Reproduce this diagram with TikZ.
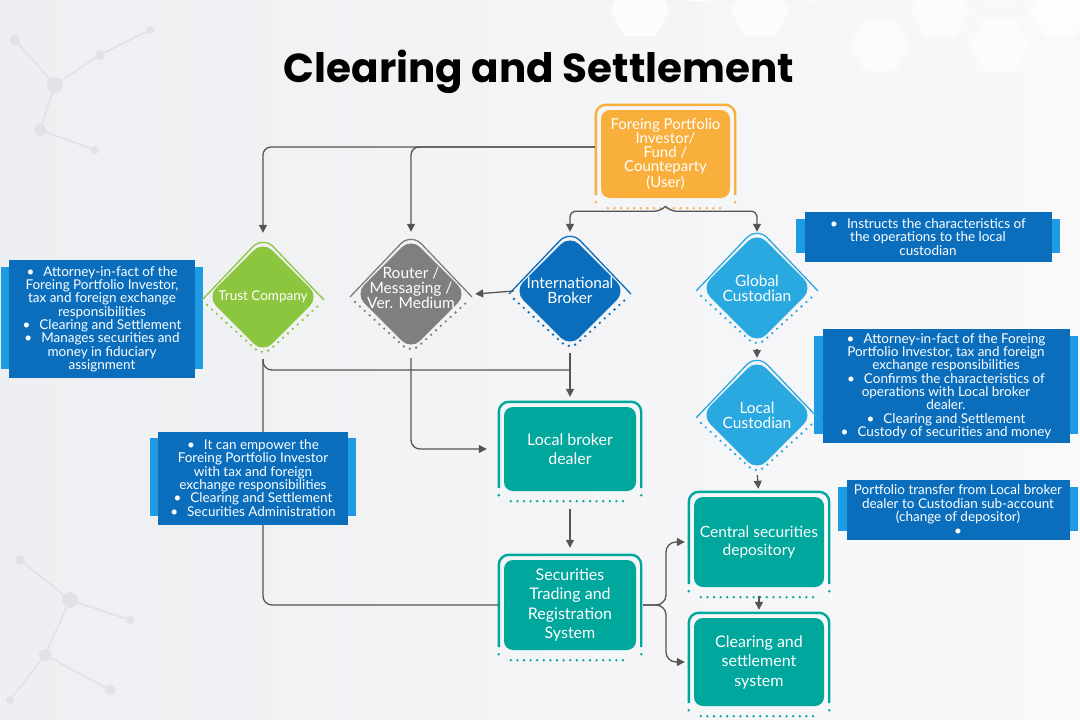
\documentclass[tikz,border=0pt]{standalone}
\usepackage{fontspec}
\setmainfont{Lato}
\newfontfamily\titlefont{Poppins}
\usetikzlibrary{shapes.geometric,arrows.meta,calc,backgrounds}
\definecolor{cOrange}{HTML}{F9AF3B}
\definecolor{cGreen}{HTML}{8CC63F}
\definecolor{cGray}{HTML}{7F7F7F}
\definecolor{cBlue}{HTML}{0A6EBD}
\definecolor{cLBlue}{HTML}{2AA9E0}
\definecolor{cTeal}{HTML}{00A79D}
\definecolor{cBack}{HTML}{1E9BE2}
\definecolor{cLine}{HTML}{555555}
\definecolor{cBgL}{HTML}{EEEFF2}
\definecolor{cBgR}{HTML}{F9F9FA}
\definecolor{cDeco}{HTML}{E0E2E6}
\tikzset{
  conn/.style={draw=cLine, line width=1.3pt},
  arr/.style={-{Triangle[length=8pt,width=8pt]}},
  dotl/.style={line width=2.6pt, line cap=round, dash pattern=on 0pt off 6.6pt},
  diam/.style={shape=diamond, aspect=1, minimum width=112pt, minimum height=112pt, inner sep=0pt, rounded corners=13pt, draw=none},
  dtxt/.style={text=white, align=center, inner sep=0pt, font=\fontsize{15.5}{15}\selectfont},
  fbox/.style={rounded corners=9pt, inner sep=0pt, text=white, align=center, font=\fontsize{16}{19.5}\selectfont},
  info/.style={fill=cBlue, inner sep=0pt, text=white, align=center, font=\fontsize{13.5}{13.35}\selectfont}
}
\newcommand\rdiam[6][]{%
  \node[diam, fill=#5] (#2) at (#3,#4) {};
  \node[dtxt, #1] (#2t) at (#2) {#6};
  \draw[#5, line width=1.3pt, rounded corners=15pt] ($(#2)+(-61,3)$) -- ($(#2)+(0,-61)$) -- ($(#2)+(61,3)$);
  \draw[#5, dotl, rounded corners=10pt] ($(#2)+(-56,8)$) -- ($(#2)+(0,59)$) -- ($(#2)+(56,8)$);
}
\newcommand\fbx[8][]{%
  \node[fbox, fill=#7, minimum width=#5, minimum height=#6, #1] (#2) at (#3,#4) {#8};
  \draw[#7, line width=2.4pt, rounded corners=10pt] ($(#2.south west)+(-5,-3)$) -- ($(#2.north west)+(-5,-5)$) -- ($(#2.north east)+(5,-5)$) -- ($(#2.south east)+(5,-3)$);
  \draw[#7, dotl] ($(#2.south west)+(7,10)$) -- ($(#2.south east)+(-7,10)$);
  \fill[#7] ($(#2.south west)+(-5,4)$) circle (1.4pt) ($(#2.south east)+(5,4)$) circle (1.4pt);
}
\newcommand\infob[6]{%
  \node[info, minimum width=#4, minimum height=#5] (#1) at (#2,#3) {#6};
  \begin{scope}[on background layer]
    \fill[cBack] ($(#1.north west)+(-8,7)$) rectangle ($(#1.south east)+(8,-9)$);
  \end{scope}
}
\begin{document}
\begin{tikzpicture}[x=1pt,y=-1pt]
\useasboundingbox (0,0) rectangle (1080,720);
\begin{scope}[on background layer]
  \shade[left color=cBgL, right color=cBgR] (0,0) rectangle (1080,720);
  \foreach \hx/\hy in {640/10, 700/-25, 760/10, 880/45, 940/10, 1000/45, 1060/10, 1000/-25, 820/-25}{
    \fill[white, opacity=0.7] ($(\hx,\hy)+(0:30)$) -- ($(\hx,\hy)+(60:30)$) -- ($(\hx,\hy)+(120:30)$) -- ($(\hx,\hy)+(180:30)$) -- ($(\hx,\hy)+(240:30)$) -- ($(\hx,\hy)+(300:30)$) -- cycle;
  }
  \draw[cDeco, line width=1.5pt] (15,40) -- (55,85) -- (100,55) (55,85) -- (40,130) -- (95,150) (100,55) -- (150,30);
  \foreach \mx/\my/\mr in {15/40/5, 55/85/8, 100/55/5, 40/130/6, 95/150/4, 150/30/4}{\fill[cDeco] (\mx,\my) circle (\mr pt);}
  \draw[cDeco, line width=1.5pt] (20,560) -- (70,600) -- (45,655) -- (110,690) (70,600) -- (130,620) (45,655) -- (10,700);
  \foreach \mx/\my/\mr in {20/560/5, 70/600/8, 45/655/6, 110/690/5, 130/620/4, 10/700/4}{\fill[cDeco] (\mx,\my) circle (\mr pt);}
\end{scope}

\node[font=\titlefont\bfseries\fontsize{40.5}{48}\selectfont, anchor=base, inner sep=0pt] (title) at (539,82) {Clearing and Settlement};

% top box
\fbx[font=\fontsize{15}{14}\selectfont]{fpi}{665.5}{154}{129pt}{88pt}{cOrange}{Foreing Portfolio\\Investor/\\Fund /\\Counteparty\\(User)}

% diamonds
\rdiam[font=\fontsize{13.5}{14}\selectfont]{trust}{263}{297}{cGreen}{Trust Company}
\rdiam[yshift=6pt]{router}{411}{294}{cGray}{Router /\\Messaging /\\Ver. Medium}
\rdiam[yshift=1pt]{ib}{570}{291}{cBlue}{International\\Broker}
\rdiam{gc}{757}{288}{cLBlue}{Global\\Custodian}
\rdiam{lc}{757}{415}{cLBlue}{Local\\Custodian}

% teal boxes
\fbx{lbd}{570}{449}{132pt}{84pt}{cTeal}{Local broker\\dealer}
\fbx{str}{570}{605}{132pt}{90pt}{cTeal}{Securities\\Trading and\\Registration\\System}
\fbx[font=\fontsize{15.5}{18}\selectfont]{csd}{759}{542}{130pt}{90pt}{cTeal}{Central securities\\depository}
\fbx{css}{759}{662}{130pt}{88pt}{cTeal}{Clearing and\\settlement\\system}

% connectors
\coordinate (fpiL) at ($(fpi.west)+(-6,-7)$);
\draw[conn, arr, rounded corners=8pt] (fpiL) -| ($(trust.north)+(0,-8)$);
\draw[conn, arr, rounded corners=8pt] (fpiL) -| ($(router.north)+(0,-6)$);
\coordinate (fpiB) at ($(fpi.south)+(0,8)$);
\draw[conn, arr, rounded corners=6pt] (fpiB) -- ++(-5,5) -| ($(ib.north)+(0,-3)$);
\draw[conn, arr, rounded corners=6pt] (fpiB) -- ++(5,5) -| ($(gc.north)+(0,0)$);
\draw[conn, arr] (ib.west) -- ($(router.east)+(8,0)$);
\coordinate (j1) at (570,370);
\draw[conn, rounded corners=9pt, shorten <=6pt] (trust.south) |- (j1);
\draw[conn, rounded corners=9pt, shorten <=6pt, shorten >=5pt] (trust.south) |- (str.west);
\draw[conn, arr, shorten <=6pt, shorten >=10pt] (ib.south) -- (lbd.north);
\draw[conn, arr, rounded corners=9pt, shorten <=8pt, shorten >=17pt] (router.south) |- (lbd.west);
\draw[conn, arr, shorten <=18pt, shorten >=12pt] (lbd.south) -- (str.north);
\coordinate (b1) at (666,605);
\draw[conn, arr, rounded corners=10pt, shorten >=9pt] ($(str.east)+(7,0)$) -- (b1) |- (csd.west);
\draw[conn, arr, rounded corners=10pt, shorten >=9pt] ($(str.east)+(7,0)$) -- (b1) |- (css.west);
\draw[conn, arr, shorten <=5pt, shorten >=1pt] (gc.south) -- (lc.north);
\draw[conn, arr, shorten <=4pt, shorten >=8pt] (lc.south) -- (csd.north);
\draw[conn, arr, shorten <=9pt, shorten >=8pt] (csd.south) -- (css.north);

% info boxes (on top of connectors)
\infob{i1}{102}{319}{186pt}{118pt}{•\hspace{9pt}Attorney-in-fact of the\\Foreing Portfolio Investor,\\tax and foreign exchange\\responsibilities\\•\hspace{9pt}Clearing and Settlement\\•\hspace{9pt}Manages securities and\\money in fiduciary\\assignment}
\infob{i2}{253}{478}{190pt}{93pt}{•\hspace{9pt}It can empower the\\Foreing Portfolio Investor\\with tax and foreign\\exchange responsibilities\\•\hspace{9pt}Clearing and Settlement\\•\hspace{9pt}Securities Administration}
\infob{r1}{928}{237}{247pt}{50pt}{•\hspace{9pt}Instructs the characteristics of\\the operations to the local\\custodian}
\infob{r2}{946}{386}{247pt}{114pt}{•\hspace{9pt}Attorney-in-fact of the Foreing\\Portfolio Investor, tax and foreign\\exchange responsibilities\\•\hspace{9pt}Confirms the characteristics of\\operations with Local broker\\dealer.\\•\hspace{9pt}Clearing and Settlement\\•\hspace{9pt}Custody of securities and money}
\infob{r3}{958}{510}{223pt}{60pt}{Portfolio transfer from Local broker\\dealer to Custodian sub-account\\(change of depositor)\\•}
\end{tikzpicture}
\end{document}
